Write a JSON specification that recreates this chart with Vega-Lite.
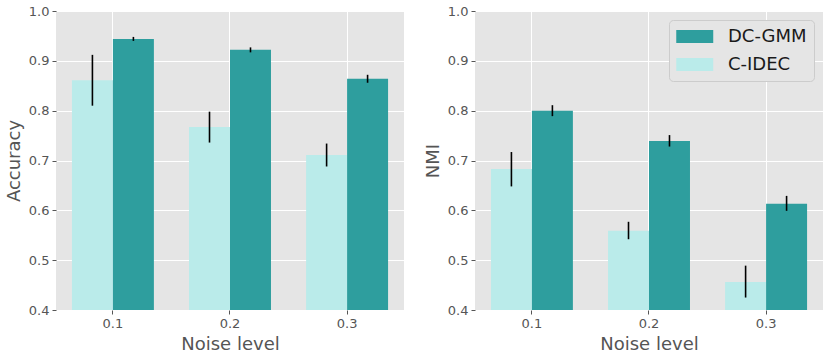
{
  "$schema": "https://vega.github.io/schema/vega-lite/v6.json",
  "background": "white",
  "padding": {"left": 5, "top": 5, "right": 5, "bottom": 5},
  "spacing": 20,
  "data": {"values": [
    {"metric": "Accuracy", "noise": "0.1", "method": "C-IDEC", "value": 0.861, "lo": 0.810, "hi": 0.912},
    {"metric": "Accuracy", "noise": "0.1", "method": "DC-GMM", "value": 0.944, "lo": 0.940, "hi": 0.948},
    {"metric": "Accuracy", "noise": "0.2", "method": "C-IDEC", "value": 0.767, "lo": 0.736, "hi": 0.798},
    {"metric": "Accuracy", "noise": "0.2", "method": "DC-GMM", "value": 0.922, "lo": 0.917, "hi": 0.927},
    {"metric": "Accuracy", "noise": "0.3", "method": "C-IDEC", "value": 0.711, "lo": 0.688, "hi": 0.734},
    {"metric": "Accuracy", "noise": "0.3", "method": "DC-GMM", "value": 0.864, "lo": 0.856, "hi": 0.872},
    {"metric": "NMI", "noise": "0.1", "method": "C-IDEC", "value": 0.683, "lo": 0.648, "hi": 0.717},
    {"metric": "NMI", "noise": "0.1", "method": "DC-GMM", "value": 0.800, "lo": 0.789, "hi": 0.811},
    {"metric": "NMI", "noise": "0.2", "method": "C-IDEC", "value": 0.559, "lo": 0.542, "hi": 0.577},
    {"metric": "NMI", "noise": "0.2", "method": "DC-GMM", "value": 0.739, "lo": 0.728, "hi": 0.751},
    {"metric": "NMI", "noise": "0.3", "method": "C-IDEC", "value": 0.456, "lo": 0.425, "hi": 0.489},
    {"metric": "NMI", "noise": "0.3", "method": "DC-GMM", "value": 0.613, "lo": 0.599, "hi": 0.629}
  ]},
  "resolve": {"scale": {"color": "independent"}, "legend": {"color": "independent"}},
  "hconcat": [
    {
      "width": 348,
      "height": 299,
      "transform": [{"filter": "datum.metric === 'Accuracy'"}],
      "encoding": {
        "x": {"field": "noise", "type": "nominal", "title": "Noise level",
              "scale": {"paddingInner": 0.3, "paddingOuter": 0.136},
              "axis": {"labelAngle": 0}},
        "xOffset": {"field": "method", "type": "nominal", "scale": {"domain": ["C-IDEC", "DC-GMM"], "paddingInner": 0}}
      },
      "layer": [
        {
          "mark": {"type": "bar", "clip": true},
          "encoding": {
            "y": {"field": "value", "type": "quantitative", "title": "Accuracy",
                  "scale": {"domain": [0.4, 1.0], "zero": false, "nice": false},
                  "axis": {"values": [0.4, 0.5, 0.6, 0.7, 0.8, 0.9, 1.0], "format": ".1f"}},
            "color": {"field": "method", "type": "nominal",
                      "scale": {"domain": ["DC-GMM", "C-IDEC"], "range": ["#2e9e9e", "#baebea"]},
                      "legend": null}
          }
        },
        {
          "mark": {"type": "rule", "color": "black", "strokeWidth": 1.6},
          "encoding": {
            "y": {"field": "lo", "type": "quantitative"},
            "y2": {"field": "hi"}
          }
        }
      ]
    },
    {
      "width": 348,
      "height": 299,
      "transform": [{"filter": "datum.metric === 'NMI'"}],
      "encoding": {
        "x": {"field": "noise", "type": "nominal", "title": "Noise level",
              "scale": {"paddingInner": 0.3, "paddingOuter": 0.136},
              "axis": {"labelAngle": 0}},
        "xOffset": {"field": "method", "type": "nominal", "scale": {"domain": ["C-IDEC", "DC-GMM"], "paddingInner": 0}}
      },
      "layer": [
        {
          "mark": {"type": "bar", "clip": true},
          "encoding": {
            "y": {"field": "value", "type": "quantitative", "title": "NMI",
                  "scale": {"domain": [0.4, 1.0], "zero": false, "nice": false},
                  "axis": {"values": [0.4, 0.5, 0.6, 0.7, 0.8, 0.9, 1.0], "format": ".1f"}},
            "color": {"field": "method", "type": "nominal",
                      "scale": {"domain": ["DC-GMM", "C-IDEC"], "range": ["#2e9e9e", "#baebea"]},
                      "legend": {"title": null, "orient": "top-right", "offset": 9}}
          }
        },
        {
          "mark": {"type": "rule", "color": "black", "strokeWidth": 1.6},
          "encoding": {
            "y": {"field": "lo", "type": "quantitative"},
            "y2": {"field": "hi"}
          }
        }
      ]
    }
  ],
  "config": {
    "font": "DejaVu Sans",
    "view": {"fill": "#e5e5e5", "stroke": null},
    "axis": {
      "domain": false,
      "grid": true,
      "gridColor": "#ffffff",
      "gridWidth": 1,
      "tickColor": "#555555",
      "tickSize": 4,
      "labelFont": "DejaVu Sans",
      "labelFontSize": 13,
      "labelColor": "#555555",
      "labelPadding": 3,
      "titleFont": "DejaVu Sans",
      "titleFontSize": 18,
      "titleFontWeight": "normal",
      "titleColor": "#555555",
      "titlePadding": 5
    },
    "legend": {
      "symbolType": "M-1,-0.7H3V0.7H-1Z",
      "symbolSize": 342,
      "symbolStrokeWidth": 0,
      "symbolOpacity": 1,
      "labelFont": "DejaVu Sans",
      "labelFontSize": 18,
      "labelColor": "#1a1a1a",
      "labelOffset": 33,
      "rowPadding": 9,
      "padding": 7,
      "fillColor": "#e5e5e5",
      "strokeColor": "#cccccc",
      "cornerRadius": 4
    }
  }
}
